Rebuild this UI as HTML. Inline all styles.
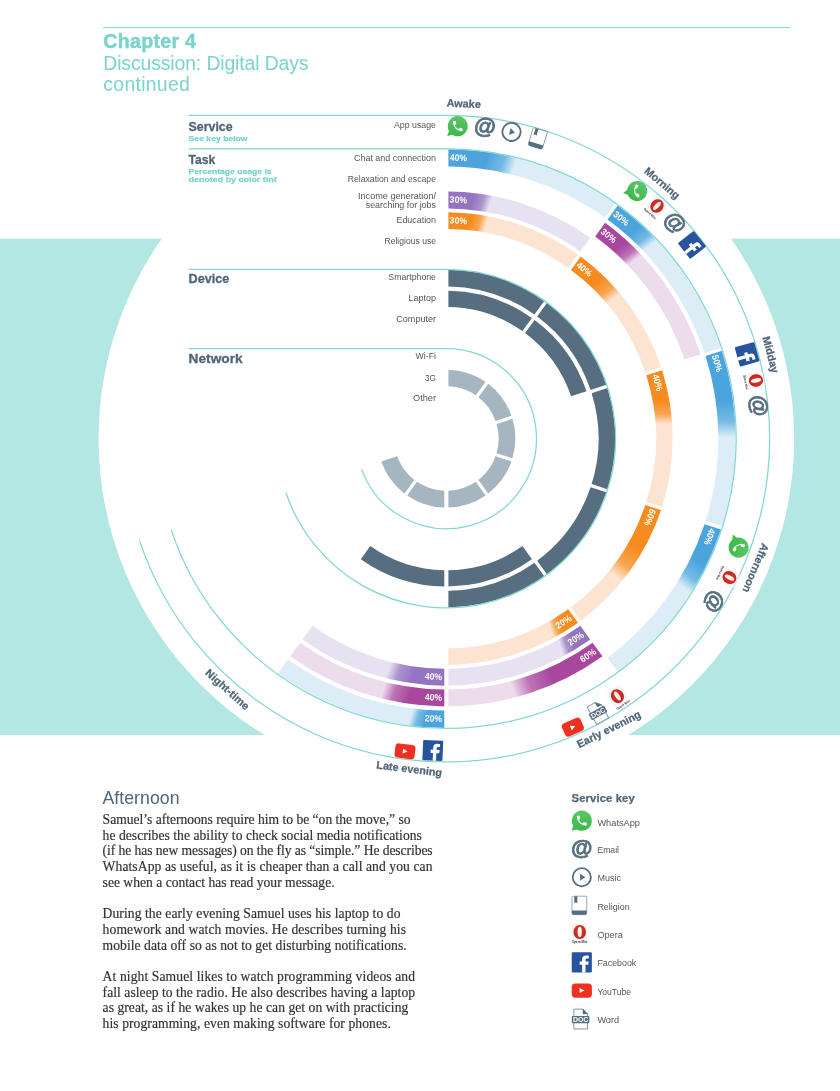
<!DOCTYPE html>
<html lang="en">
<head>
<meta charset="utf-8">
<title>Chapter 4 – Discussion: Digital Days continued</title>
<style>
html,body{margin:0;padding:0;background:#fff;}
body{width:840px;height:1091px;position:relative;overflow:hidden;font-family:"Liberation Sans",sans-serif;}
#chart{position:absolute;left:0;top:0;width:840px;height:1091px;display:block;}
.rule{position:absolute;left:102.6px;top:26.9px;width:687.4px;height:1.6px;background:#82d7d1;}
.hd{position:absolute;left:103.3px;margin:0;color:#7ad3cd;white-space:nowrap;line-height:1;transform-origin:0 0;}
h1.hd{top:32.0px;font-size:19.6px;font-weight:bold;letter-spacing:.28px;-webkit-text-stroke:.45px #7ad3cd;}
.sub{font-weight:normal;font-size:19.4px;letter-spacing:-.12px;}
.sub.a{top:54.0px;}
.sub.b{top:75.1px;letter-spacing:.3px;}
h2.sec{position:absolute;left:102.4px;top:789.7px;margin:0;font-size:17.7px;letter-spacing:.05px;font-weight:normal;color:#4f6579;line-height:1;white-space:nowrap;}
.copy{position:absolute;left:102.6px;top:812.0px;width:345px;font-family:"Liberation Serif",serif;font-size:13.6px;line-height:15.7px;color:#333333;-webkit-text-stroke:.18px #333333;}
.copy p{margin:0 0 15.7px 0;white-space:nowrap;}
.copy span{display:block;width:max-content;}
.keyh{position:absolute;left:571.6px;top:792.6px;margin:0;font-size:11.3px;letter-spacing:.1px;-webkit-text-stroke:.25px #4f6579;font-weight:bold;color:#4f6579;line-height:1;white-space:nowrap;}
</style>
</head>
<body>
<svg id="chart" width="840" height="1091" viewBox="0 0 840 1091" font-family="'Liberation Sans', sans-serif"><defs><linearGradient id="wa" x1="0" y1="0" x2="0" y2="1"><stop offset="0" stop-color="#5ac766"/><stop offset="1" stop-color="#3cb84a"/></linearGradient><radialGradient id="op" cx=".5" cy=".4" r=".62"><stop offset="0" stop-color="#e8362c"/><stop offset="1" stop-color="#c21f1b"/></radialGradient><linearGradient id="g1" gradientUnits="userSpaceOnUse" x1="446.35" y1="157.95" x2="611.31" y2="211.55"><stop offset="0.22" stop-color="#4ba4dd"/><stop offset="0.32" stop-color="#76bae5"/><stop offset="0.39" stop-color="#dcedf8"/></linearGradient><linearGradient id="g2" gradientUnits="userSpaceOnUse" x1="611.31" y1="211.55" x2="713.26" y2="351.87"><stop offset="0.17" stop-color="#4ba4dd"/><stop offset="0.24" stop-color="#76bae5"/><stop offset="0.29" stop-color="#dcedf8"/></linearGradient><linearGradient id="g3" gradientUnits="userSpaceOnUse" x1="713.26" y1="351.87" x2="713.26" y2="525.33"><stop offset="0.28" stop-color="#4ba4dd"/><stop offset="0.4" stop-color="#76bae5"/><stop offset="0.49" stop-color="#dcedf8"/></linearGradient><linearGradient id="g4" gradientUnits="userSpaceOnUse" x1="713.26" y1="525.33" x2="611.31" y2="665.65"><stop offset="0.22" stop-color="#4ba4dd"/><stop offset="0.32" stop-color="#76bae5"/><stop offset="0.39" stop-color="#dcedf8"/></linearGradient><linearGradient id="g5" gradientUnits="userSpaceOnUse" x1="446.35" y1="719.25" x2="281.39" y2="665.65"><stop offset="0.11" stop-color="#4ba4dd"/><stop offset="0.16" stop-color="#76bae5"/><stop offset="0.2" stop-color="#dcedf8"/></linearGradient><linearGradient id="g6" gradientUnits="userSpaceOnUse" x1="598.85" y1="228.7" x2="693.1" y2="358.43"><stop offset="0.17" stop-color="#a9469d"/><stop offset="0.24" stop-color="#bd73b5"/><stop offset="0.29" stop-color="#ecdcec"/></linearGradient><linearGradient id="g7" gradientUnits="userSpaceOnUse" x1="598.85" y1="648.5" x2="446.35" y2="698.05"><stop offset="0.33" stop-color="#a9469d"/><stop offset="0.48" stop-color="#bd73b5"/><stop offset="0.59" stop-color="#ecdcec"/></linearGradient><linearGradient id="g8" gradientUnits="userSpaceOnUse" x1="446.35" y1="698.05" x2="293.85" y2="648.5"><stop offset="0.22" stop-color="#a9469d"/><stop offset="0.32" stop-color="#bd73b5"/><stop offset="0.39" stop-color="#ecdcec"/></linearGradient><linearGradient id="g9" gradientUnits="userSpaceOnUse" x1="446.35" y1="199.95" x2="586.62" y2="245.53"><stop offset="0.17" stop-color="#9474c0"/><stop offset="0.24" stop-color="#ad95cf"/><stop offset="0.29" stop-color="#e7e2f2"/></linearGradient><linearGradient id="g10" gradientUnits="userSpaceOnUse" x1="586.62" y1="631.67" x2="446.35" y2="677.25"><stop offset="0.11" stop-color="#9474c0"/><stop offset="0.16" stop-color="#ad95cf"/><stop offset="0.2" stop-color="#e7e2f2"/></linearGradient><linearGradient id="g11" gradientUnits="userSpaceOnUse" x1="446.35" y1="677.25" x2="306.08" y2="631.67"><stop offset="0.22" stop-color="#9474c0"/><stop offset="0.32" stop-color="#ad95cf"/><stop offset="0.39" stop-color="#e7e2f2"/></linearGradient><linearGradient id="g12" gradientUnits="userSpaceOnUse" x1="446.35" y1="220.6" x2="574.49" y2="262.23"><stop offset="0.17" stop-color="#f68c1f"/><stop offset="0.24" stop-color="#f8a654"/><stop offset="0.29" stop-color="#fde4d1"/></linearGradient><linearGradient id="g13" gradientUnits="userSpaceOnUse" x1="574.49" y1="262.23" x2="653.68" y2="371.23"><stop offset="0.22" stop-color="#f68c1f"/><stop offset="0.32" stop-color="#f8a654"/><stop offset="0.39" stop-color="#fde4d1"/></linearGradient><linearGradient id="g14" gradientUnits="userSpaceOnUse" x1="653.68" y1="371.23" x2="653.68" y2="505.97"><stop offset="0.22" stop-color="#f68c1f"/><stop offset="0.32" stop-color="#f8a654"/><stop offset="0.39" stop-color="#fde4d1"/></linearGradient><linearGradient id="g15" gradientUnits="userSpaceOnUse" x1="653.68" y1="505.97" x2="574.49" y2="614.97"><stop offset="0.33" stop-color="#f68c1f"/><stop offset="0.48" stop-color="#f8a654"/><stop offset="0.59" stop-color="#fde4d1"/></linearGradient><linearGradient id="g16" gradientUnits="userSpaceOnUse" x1="574.49" y1="614.97" x2="446.35" y2="656.6"><stop offset="0.11" stop-color="#f68c1f"/><stop offset="0.16" stop-color="#f8a654"/><stop offset="0.2" stop-color="#fde4d1"/></linearGradient></defs><rect x="0" y="238.6" width="840" height="496.4" fill="#b3e7e3"/>
<circle cx="446.35" cy="438.6" r="347.8" fill="#fff"/>
<path d="M448.4 149.31A289.3 289.3 0 0 1 615.06 203.59L604.89 217.58A272 272 0 0 0 448.4 166.61Z" fill="url(#g1)"/>
<path d="M617.73 205.53A289.3 289.3 0 0 1 720.98 347.63L704.52 352.98A272 272 0 0 0 607.56 219.52Z" fill="url(#g2)"/>
<path d="M722 350.77A289.3 289.3 0 0 1 722 526.43L705.54 521.08A272 272 0 0 0 705.54 356.12Z" fill="url(#g3)"/>
<path d="M720.98 529.57A289.3 289.3 0 0 1 617.73 671.67L607.56 657.68A272 272 0 0 0 704.52 524.22Z" fill="url(#g4)"/>
<path d="M444.3 727.89A289.3 289.3 0 0 1 277.64 673.61L287.81 659.62A272 272 0 0 0 444.3 710.59Z" fill="url(#g5)"/>
<path d="M605.15 222.84A267.9 267.9 0 0 1 700.62 354.25L684.55 359.47A251 251 0 0 0 595.22 236.51Z" fill="url(#g6)"/>
<path d="M602.48 656.3A267.9 267.9 0 0 1 448.4 706.49L448.4 689.59A251 251 0 0 0 592.55 642.63Z" fill="url(#g7)"/>
<path d="M444.3 706.49A267.9 267.9 0 0 1 290.22 656.3L300.15 642.63A251 251 0 0 0 444.3 689.59Z" fill="url(#g8)"/>
<path d="M448.4 191.51A247.1 247.1 0 0 1 590.25 237.73L580.32 251.4A230.2 230.2 0 0 0 448.4 208.41Z" fill="url(#g9)"/>
<path d="M590.25 639.47A247.1 247.1 0 0 1 448.4 685.69L448.4 668.79A230.2 230.2 0 0 0 580.32 625.8Z" fill="url(#g10)"/>
<path d="M444.3 685.69A247.1 247.1 0 0 1 302.45 639.47L312.38 625.8A230.2 230.2 0 0 0 444.3 668.79Z" fill="url(#g11)"/>
<path d="M448.4 212.31A226.3 226.3 0 0 1 578.03 254.55L568.27 267.98A209.7 209.7 0 0 0 448.4 228.91Z" fill="url(#g12)"/>
<path d="M580.7 256.49A226.3 226.3 0 0 1 661.06 367.1L645.27 372.23A209.7 209.7 0 0 0 570.94 269.92Z" fill="url(#g13)"/>
<path d="M662.08 370.24A226.3 226.3 0 0 1 662.08 506.96L646.29 501.83A209.7 209.7 0 0 0 646.29 375.37Z" fill="url(#g14)"/>
<path d="M661.06 510.1A226.3 226.3 0 0 1 580.7 620.71L570.94 607.28A209.7 209.7 0 0 0 645.27 504.97Z" fill="url(#g15)"/>
<path d="M578.03 622.65A226.3 226.3 0 0 1 448.4 664.89L448.4 648.29A209.7 209.7 0 0 0 568.27 609.22Z" fill="url(#g16)"/>
<path d="M448.4 269.81A168.8 168.8 0 0 1 544.23 301.07L534.47 314.51A152.2 152.2 0 0 0 448.4 286.41Z" fill="#566e7f"/>
<path d="M546.9 303.01A168.8 168.8 0 0 1 606.37 384.87L590.58 390A152.2 152.2 0 0 0 537.14 316.44Z" fill="#566e7f"/>
<path d="M607.39 388.01A168.8 168.8 0 0 1 607.39 489.19L591.6 484.06A152.2 152.2 0 0 0 591.6 393.14Z" fill="#566e7f"/>
<path d="M606.37 492.33A168.8 168.8 0 0 1 546.9 574.19L537.14 560.76A152.2 152.2 0 0 0 590.58 487.2Z" fill="#566e7f"/>
<path d="M544.23 576.13A168.8 168.8 0 0 1 448.4 607.39L448.4 590.79A152.2 152.2 0 0 0 534.47 562.69Z" fill="#566e7f"/>
<path d="M448.4 290.71A147.9 147.9 0 0 1 531.94 317.98L522.42 331.09A131.7 131.7 0 0 0 448.4 306.92Z" fill="#566e7f"/>
<path d="M534.61 319.92A147.9 147.9 0 0 1 586.49 391.33L571.08 396.34A131.7 131.7 0 0 0 525.09 333.03Z" fill="#566e7f"/>
<path d="M531.94 559.22A147.9 147.9 0 0 1 448.4 586.49L448.4 570.28A131.7 131.7 0 0 0 522.42 546.11Z" fill="#566e7f"/>
<path d="M444.3 586.49A147.9 147.9 0 0 1 360.76 559.22L370.28 546.11A131.7 131.7 0 0 0 444.3 570.28Z" fill="#566e7f"/>
<path d="M448.4 369.63A69 69 0 0 1 485.56 381.82L475.74 395.34A52.3 52.3 0 0 0 448.4 386.34Z" fill="#a5b6c1"/>
<path d="M488.23 383.76A69 69 0 0 1 511.44 415.71L495.56 420.88A52.3 52.3 0 0 0 478.41 397.28Z" fill="#a5b6c1"/>
<path d="M512.46 418.85A69 69 0 0 1 512.46 458.35L496.58 453.18A52.3 52.3 0 0 0 496.58 424.02Z" fill="#a5b6c1"/>
<path d="M511.44 461.49A69 69 0 0 1 488.23 493.44L478.41 479.92A52.3 52.3 0 0 0 495.56 456.32Z" fill="#a5b6c1"/>
<path d="M485.56 495.38A69 69 0 0 1 448.4 507.57L448.4 490.86A52.3 52.3 0 0 0 475.74 481.86Z" fill="#a5b6c1"/>
<path d="M444.3 507.57A69 69 0 0 1 407.14 495.38L416.96 481.86A52.3 52.3 0 0 0 444.3 490.86Z" fill="#a5b6c1"/>
<path d="M404.47 493.44A69 69 0 0 1 381.26 461.49L397.14 456.32A52.3 52.3 0 0 0 414.29 479.92Z" fill="#a5b6c1"/>
<path d="M188.6 115.3H446.35A323.3 323.3 0 1 1 139.58 540.65" fill="none" stroke="#82d7d1" stroke-width="1.25"/>
<path d="M188.6 148.75H446.35A289.85 289.85 0 1 1 171.16 529.61" fill="none" stroke="#82d7d1" stroke-width="1.25"/>
<path d="M188.6 269.35H446.35A169.25 169.25 0 1 1 285.94 492.58" fill="none" stroke="#82d7d1" stroke-width="1.25"/>
<path d="M188.6 348.5H446.35A90.1 90.1 0 1 1 361.58 469.12" fill="none" stroke="#82d7d1" stroke-width="1.25"/>
<text transform="translate(458.35 158.21) rotate(2.45)" x="0" y="2.7" text-anchor="middle" font-size="9.3" font-weight="bold" fill="#fff" textLength="17.2" lengthAdjust="spacingAndGlyphs">40%</text>
<text transform="translate(620.87 218.81) rotate(38.45)" x="0" y="2.7" text-anchor="middle" font-size="9.3" font-weight="bold" fill="#fff" textLength="17.2" lengthAdjust="spacingAndGlyphs">30%</text>
<text transform="translate(716.73 363.36) rotate(74.45)" x="0" y="2.7" text-anchor="middle" font-size="9.3" font-weight="bold" fill="#fff" textLength="17.2" lengthAdjust="spacingAndGlyphs">50%</text>
<text transform="translate(709.31 536.66) rotate(110.45)" x="0" y="2.7" text-anchor="middle" font-size="9.3" font-weight="bold" fill="#fff" textLength="17.2" lengthAdjust="spacingAndGlyphs">40%</text>
<text transform="translate(433.45 718.95) rotate(2.63)" x="0" y="2.7" text-anchor="middle" font-size="9.3" font-weight="bold" fill="#fff" textLength="17.2" lengthAdjust="spacingAndGlyphs">20%</text>
<text transform="translate(608.39 235.98) rotate(38.65)" x="0" y="2.7" text-anchor="middle" font-size="9.3" font-weight="bold" fill="#fff" textLength="17.2" lengthAdjust="spacingAndGlyphs">30%</text>
<text transform="translate(588.23 655.82) rotate(-33.15)" x="0" y="2.7" text-anchor="middle" font-size="9.3" font-weight="bold" fill="#fff" textLength="17.2" lengthAdjust="spacingAndGlyphs">60%</text>
<text transform="translate(433.46 697.73) rotate(2.85)" x="0" y="2.7" text-anchor="middle" font-size="9.3" font-weight="bold" fill="#fff" textLength="17.2" lengthAdjust="spacingAndGlyphs">40%</text>
<text transform="translate(458.34 200.25) rotate(2.88)" x="0" y="2.7" text-anchor="middle" font-size="9.3" font-weight="bold" fill="#fff" textLength="17.2" lengthAdjust="spacingAndGlyphs">30%</text>
<text transform="translate(575.99 638.97) rotate(-32.9)" x="0" y="2.7" text-anchor="middle" font-size="9.3" font-weight="bold" fill="#fff" textLength="17.2" lengthAdjust="spacingAndGlyphs">20%</text>
<text transform="translate(433.46 676.9) rotate(3.1)" x="0" y="2.7" text-anchor="middle" font-size="9.3" font-weight="bold" fill="#fff" textLength="17.2" lengthAdjust="spacingAndGlyphs">40%</text>
<text transform="translate(458.34 220.93) rotate(3.15)" x="0" y="2.7" text-anchor="middle" font-size="9.3" font-weight="bold" fill="#fff" textLength="17.2" lengthAdjust="spacingAndGlyphs">30%</text>
<text transform="translate(584 269.55) rotate(39.15)" x="0" y="2.7" text-anchor="middle" font-size="9.3" font-weight="bold" fill="#fff" textLength="17.2" lengthAdjust="spacingAndGlyphs">40%</text>
<text transform="translate(657.07 382.74) rotate(75.15)" x="0" y="2.7" text-anchor="middle" font-size="9.3" font-weight="bold" fill="#fff" textLength="17.2" lengthAdjust="spacingAndGlyphs">40%</text>
<text transform="translate(649.66 517.27) rotate(111.15)" x="0" y="2.7" text-anchor="middle" font-size="9.3" font-weight="bold" fill="#fff" textLength="17.2" lengthAdjust="spacingAndGlyphs">60%</text>
<text transform="translate(563.83 622.24) rotate(-32.61)" x="0" y="2.7" text-anchor="middle" font-size="9.3" font-weight="bold" fill="#fff" textLength="17.2" lengthAdjust="spacingAndGlyphs">20%</text>
<text transform="translate(463.72 103.75) rotate(2.5)" x="0" y="3.6" text-anchor="middle" font-size="10.8" font-weight="bold" fill="#4f6579" stroke="#4f6579" stroke-width=".25" textLength="34.3" lengthAdjust="spacingAndGlyphs">Awake</text>
<text transform="translate(662.13 183.26) rotate(40)" x="0" y="3.6" text-anchor="middle" font-size="10.8" font-weight="bold" fill="#4f6579" stroke="#4f6579" stroke-width=".25" textLength="42.6" lengthAdjust="spacingAndGlyphs">Morning</text>
<text transform="translate(770.55 354.63) rotate(75.5)" x="0" y="3.6" text-anchor="middle" font-size="10.8" font-weight="bold" fill="#4f6579" stroke="#4f6579" stroke-width=".25" textLength="37.5" lengthAdjust="spacingAndGlyphs">Midday</text>
<text transform="translate(755.68 567.99) rotate(112.6)" x="0" y="3.6" text-anchor="middle" font-size="10.8" font-weight="bold" fill="#4f6579" stroke="#4f6579" stroke-width=".25" textLength="52.0" lengthAdjust="spacingAndGlyphs">Afternoon</text>
<text transform="translate(608.81 729.28) rotate(-26.6)" x="0" y="3.6" text-anchor="middle" font-size="10.8" font-weight="bold" fill="#4f6579" stroke="#4f6579" stroke-width=".25" textLength="70.0" lengthAdjust="spacingAndGlyphs">Early evening</text>
<text transform="translate(409.3 768.93) rotate(7)" x="0" y="3.6" text-anchor="middle" font-size="10.8" font-weight="bold" fill="#4f6579" stroke="#4f6579" stroke-width=".25" textLength="66.0" lengthAdjust="spacingAndGlyphs">Late evening</text>
<text transform="translate(227.44 689.54) rotate(42)" x="0" y="3.6" text-anchor="middle" font-size="10.8" font-weight="bold" fill="#4f6579" stroke="#4f6579" stroke-width=".25" textLength="55.0" lengthAdjust="spacingAndGlyphs">Night-time</text>
<g transform="translate(457.6 126.2) rotate(2.1)"><g><path d="M0.1-10.1a10.1 10.1 0 1 1-5.2 18.8L-10 10.1l1.5-5A10.1 10.1 0 0 1 0.1-10.1Z" fill="url(#wa)"/><path transform="translate(-6.5 -6.7) scale(.55)" fill="#fff" d="M6.62 10.79c1.44 2.83 3.76 5.14 6.59 6.59l2.2-2.2c.27-.27.67-.36 1.02-.24 1.12.37 2.33.57 3.57.57.55 0 1 .45 1 1V20c0 .55-.45 1-1 1-9.39 0-17-7.61-17-17 0-.55.45-1 1-1h3.5c.55 0 1 .45 1 1 0 1.25.2 2.45.57 3.57.11.35.03.74-.25 1.02l-2.2 2.2z"/></g></g>
<g transform="translate(484.9 127.5) rotate(7.1)"><text x="0" y="5.8" text-anchor="middle" font-size="22" font-weight="bold" fill="#566e7f" stroke="#566e7f" stroke-width=".75" stroke-linejoin="round">@</text></g>
<g transform="translate(511.5 131.9) rotate(12)"><g><circle r="9.1" fill="#fff" stroke="#566e7f" stroke-width="1.8"/><path d="M-1.7-3.5L3.5 0L-1.7 3.5Z" fill="#566e7f"/></g></g>
<g transform="translate(538 138.6) rotate(17)"><g><path d="M-6.2-9.3H7.1V7.4A1.8 1.8 0 0 1 5.3 9.2H-5.9A1.8 1.8 0 0 1-7.7 7.4V-7.8A1.5 1.5 0 0 1-6.2-9.3Z" fill="#fff" stroke="#8395a3" stroke-width=".8"/><path d="M-7.7 5H7.1V7.4A1.8 1.8 0 0 1 5.3 9.2H-5.9A1.8 1.8 0 0 1-7.7 7.4Z" fill="#566e7f"/><path d="M-5.4-9.3h3.1v7.4l-1.55-1.3l-1.55 1.3Z" fill="#566e7f"/></g></g>
<g transform="translate(637.1 191) rotate(37.6)"><g><path d="M0.1-10.1a10.1 10.1 0 1 1-5.2 18.8L-10 10.1l1.5-5A10.1 10.1 0 0 1 0.1-10.1Z" fill="url(#wa)"/><path transform="translate(-6.5 -6.7) scale(.55)" fill="#fff" d="M6.62 10.79c1.44 2.83 3.76 5.14 6.59 6.59l2.2-2.2c.27-.27.67-.36 1.02-.24 1.12.37 2.33.57 3.57.57.55 0 1 .45 1 1V20c0 .55-.45 1-1 1-9.39 0-17-7.61-17-17 0-.55.45-1 1-1h3.5c.55 0 1 .45 1 1 0 1.25.2 2.45.57 3.57.11.35.03.74-.25 1.02l-2.2 2.2z"/></g></g>
<g transform="translate(655.8 207.1) rotate(42.2)"><g><rect x="-8.1" y="-9.7" width="16.2" height="16.2" rx="2" fill="#f6f5f5"/><ellipse cx="0.1" cy="-1.7" rx="6.3" ry="7.1" fill="url(#op)"/><ellipse cx="0.1" cy="-1.7" rx="2.1" ry="5.2" fill="#faf4f3"/><text x="0" y="9.8" text-anchor="middle" font-size="3.2" font-weight="bold" fill="#333" textLength="15.4" lengthAdjust="spacingAndGlyphs">Opera Mini</text></g></g>
<g transform="translate(674.3 223.3) rotate(46.7)"><text x="0" y="5.8" text-anchor="middle" font-size="22" font-weight="bold" fill="#566e7f" stroke="#566e7f" stroke-width=".75" stroke-linejoin="round">@</text></g>
<g transform="translate(692 244.9) rotate(51.8)"><g><rect x="-10.05" y="-10.15" width="20.1" height="20.3" rx="1.2" fill="#27539f"/><path d="M0.3 10.15V2.5H-2.1V-0.8H0.3V-3.2C0.3-5.7 1.9-6.9 4.2-6.9C5.3-6.9 6.4-6.8 7-6.7V-3.8H5.3C4-3.8 3.7-3.2 3.7-2.3V-0.8H6.9L6.5 2.5H3.7V10.15Z" fill="#fff"/></g></g>
<g transform="translate(747.1 354.3) rotate(74.4)"><g><rect x="-10.05" y="-10.15" width="20.1" height="20.3" rx="1.2" fill="#27539f"/><path d="M0.3 10.15V2.5H-2.1V-0.8H0.3V-3.2C0.3-5.7 1.9-6.9 4.2-6.9C5.3-6.9 6.4-6.8 7-6.7V-3.8H5.3C4-3.8 3.7-3.2 3.7-2.3V-0.8H6.9L6.5 2.5H3.7V10.15Z" fill="#fff"/></g></g>
<g transform="translate(754.3 380.7) rotate(79.4)"><g><rect x="-8.1" y="-9.7" width="16.2" height="16.2" rx="2" fill="#f6f5f5"/><ellipse cx="0.1" cy="-1.7" rx="6.3" ry="7.1" fill="url(#op)"/><ellipse cx="0.1" cy="-1.7" rx="2.1" ry="5.2" fill="#faf4f3"/><text x="0" y="9.8" text-anchor="middle" font-size="3.2" font-weight="bold" fill="#333" textLength="15.4" lengthAdjust="spacingAndGlyphs">Opera Mini</text></g></g>
<g transform="translate(757.9 405.7) rotate(84)"><text x="0" y="5.8" text-anchor="middle" font-size="22" font-weight="bold" fill="#566e7f" stroke="#566e7f" stroke-width=".75" stroke-linejoin="round">@</text></g>
<g transform="translate(738.7 547.5) rotate(110.5)"><g><path d="M0.1-10.1a10.1 10.1 0 1 1-5.2 18.8L-10 10.1l1.5-5A10.1 10.1 0 0 1 0.1-10.1Z" fill="url(#wa)"/><path transform="translate(-6.5 -6.7) scale(.55)" fill="#fff" d="M6.62 10.79c1.44 2.83 3.76 5.14 6.59 6.59l2.2-2.2c.27-.27.67-.36 1.02-.24 1.12.37 2.33.57 3.57.57.55 0 1 .45 1 1V20c0 .55-.45 1-1 1-9.39 0-17-7.61-17-17 0-.55.45-1 1-1h3.5c.55 0 1 .45 1 1 0 1.25.2 2.45.57 3.57.11.35.03.74-.25 1.02l-2.2 2.2z"/></g></g>
<g transform="translate(728 576.7) rotate(116.1)"><g><rect x="-8.1" y="-9.7" width="16.2" height="16.2" rx="2" fill="#f6f5f5"/><ellipse cx="0.1" cy="-1.7" rx="6.3" ry="7.1" fill="url(#op)"/><ellipse cx="0.1" cy="-1.7" rx="2.1" ry="5.2" fill="#faf4f3"/><text x="0" y="9.8" text-anchor="middle" font-size="3.2" font-weight="bold" fill="#333" textLength="15.4" lengthAdjust="spacingAndGlyphs">Opera Mini</text></g></g>
<g transform="translate(713.3 601.2) rotate(121.4)"><text x="0" y="5.8" text-anchor="middle" font-size="22" font-weight="bold" fill="#566e7f" stroke="#566e7f" stroke-width=".75" stroke-linejoin="round">@</text></g>
<g transform="translate(618.3 697.5) rotate(-33.6)"><g><rect x="-8.1" y="-9.7" width="16.2" height="16.2" rx="2" fill="#f6f5f5"/><ellipse cx="0.1" cy="-1.7" rx="6.3" ry="7.1" fill="url(#op)"/><ellipse cx="0.1" cy="-1.7" rx="2.1" ry="5.2" fill="#faf4f3"/><text x="0" y="9.8" text-anchor="middle" font-size="3.2" font-weight="bold" fill="#333" textLength="15.4" lengthAdjust="spacingAndGlyphs">Opera Mini</text></g></g>
<g transform="translate(597.8 712.5) rotate(-28.9)"><g><path d="M-6.7-9.9H2.4L6.9-5.1V9.9H-6.7Z" fill="#fff" stroke="#8395a3" stroke-width="1" stroke-linejoin="round"/><path d="M2.4-9.9L6.9-5.1H2.4Z" fill="#566e7f" stroke="#566e7f" stroke-width=".5" stroke-linejoin="round"/><rect x="-8.8" y="-3.1" width="17.6" height="7.2" rx="1" fill="#566e7f"/><text x="0" y="3" text-anchor="middle" font-size="6.9" font-weight="bold" fill="#fff" textLength="15.4" lengthAdjust="spacingAndGlyphs">DOC</text></g></g>
<g transform="translate(572.8 727) rotate(-23.7)"><g><rect x="-10.1" y="-7" width="20.2" height="14.3" rx="3.6" fill="#ef2f20"/><path d="M-2.2-2.4L2.6 0.15L-2.2 2.7Z" fill="#fff"/></g></g>
<g transform="translate(432.8 750.5) rotate(2.5)"><g><rect x="-10.05" y="-10.15" width="20.1" height="20.3" rx="1.2" fill="#27539f"/><path d="M0.3 10.15V2.5H-2.1V-0.8H0.3V-3.2C0.3-5.7 1.9-6.9 4.2-6.9C5.3-6.9 6.4-6.8 7-6.7V-3.8H5.3C4-3.8 3.7-3.2 3.7-2.3V-0.8H6.9L6.5 2.5H3.7V10.15Z" fill="#fff"/></g></g>
<g transform="translate(405 751.2) rotate(7.5)"><g><rect x="-10.1" y="-7" width="20.2" height="14.3" rx="3.6" fill="#ef2f20"/><path d="M-2.2-2.4L2.6 0.15L-2.2 2.7Z" fill="#fff"/></g></g>
<text x="188.6" y="131.1" font-size="13" font-weight="bold" fill="#4f6579" stroke="#4f6579" stroke-width="0.3" textLength="44" lengthAdjust="spacingAndGlyphs">Service</text>
<text x="188.6" y="141.1" font-size="8" font-weight="bold" fill="#7ad3cd" stroke="#7ad3cd" stroke-width="0.25" textLength="59" lengthAdjust="spacingAndGlyphs">See key below</text>
<text x="188.6" y="164.4" font-size="13" font-weight="bold" fill="#4f6579" stroke="#4f6579" stroke-width="0.3" textLength="26.7" lengthAdjust="spacingAndGlyphs">Task</text>
<text x="188.6" y="174.4" font-size="8" font-weight="bold" fill="#7ad3cd" stroke="#7ad3cd" stroke-width="0.25" textLength="83" lengthAdjust="spacingAndGlyphs">Percentage usage is</text>
<text x="188.6" y="182.4" font-size="8" font-weight="bold" fill="#7ad3cd" stroke="#7ad3cd" stroke-width="0.25" textLength="88" lengthAdjust="spacingAndGlyphs">denoted by color tint</text>
<text x="188.6" y="283.4" font-size="13" font-weight="bold" fill="#4f6579" stroke="#4f6579" stroke-width="0.3" textLength="40.7" lengthAdjust="spacingAndGlyphs">Device</text>
<text x="188.6" y="362.8" font-size="13" font-weight="bold" fill="#4f6579" stroke="#4f6579" stroke-width="0.3" textLength="54" lengthAdjust="spacingAndGlyphs">Network</text>
<text x="436" y="127.9" font-size="9.2" text-anchor="end" fill="#555555" textLength="42" lengthAdjust="spacingAndGlyphs">App usage</text>
<text x="436" y="160.7" font-size="9.2" text-anchor="end" fill="#555555" textLength="82" lengthAdjust="spacingAndGlyphs">Chat and connection</text>
<text x="436" y="181.8" font-size="9.2" text-anchor="end" fill="#555555" textLength="88.3" lengthAdjust="spacingAndGlyphs">Relaxation and escape</text>
<text x="436" y="198.7" font-size="9.2" text-anchor="end" fill="#555555" textLength="78" lengthAdjust="spacingAndGlyphs">Income generation/</text>
<text x="436" y="207.8" font-size="9.2" text-anchor="end" fill="#555555" textLength="70.3" lengthAdjust="spacingAndGlyphs">searching for jobs</text>
<text x="436" y="223.3" font-size="9.2" text-anchor="end" fill="#555555" textLength="39.5" lengthAdjust="spacingAndGlyphs">Education</text>
<text x="436" y="243.7" font-size="9.2" text-anchor="end" fill="#555555" textLength="51.5" lengthAdjust="spacingAndGlyphs">Religious use</text>
<text x="436" y="280.2" font-size="9.2" text-anchor="end" fill="#555555" textLength="47.7" lengthAdjust="spacingAndGlyphs">Smartphone</text>
<text x="436" y="301.2" font-size="9.2" text-anchor="end" fill="#555555" textLength="27.5" lengthAdjust="spacingAndGlyphs">Laptop</text>
<text x="436" y="321.9" font-size="9.2" text-anchor="end" fill="#555555" textLength="39.7" lengthAdjust="spacingAndGlyphs">Computer</text>
<text x="436" y="358.5" font-size="9.2" text-anchor="end" fill="#555555" textLength="20.5" lengthAdjust="spacingAndGlyphs">Wi-Fi</text>
<text x="436" y="381.2" font-size="9.2" text-anchor="end" fill="#555555" textLength="11" lengthAdjust="spacingAndGlyphs">3G</text>
<text x="436" y="401.2" font-size="9.2" text-anchor="end" fill="#555555" textLength="23" lengthAdjust="spacingAndGlyphs">Other</text><g transform="translate(581.7 820.7)"><g><path d="M0.1-10.1a10.1 10.1 0 1 1-5.2 18.8L-10 10.1l1.5-5A10.1 10.1 0 0 1 0.1-10.1Z" fill="url(#wa)"/><path transform="translate(-6.5 -6.7) scale(.55)" fill="#fff" d="M6.62 10.79c1.44 2.83 3.76 5.14 6.59 6.59l2.2-2.2c.27-.27.67-.36 1.02-.24 1.12.37 2.33.57 3.57.57.55 0 1 .45 1 1V20c0 .55-.45 1-1 1-9.39 0-17-7.61-17-17 0-.55.45-1 1-1h3.5c.55 0 1 .45 1 1 0 1.25.2 2.45.57 3.57.11.35.03.74-.25 1.02l-2.2 2.2z"/></g></g>
<text x="597.4" y="825.5" font-size="9.3" fill="#555555" textLength="42.6" lengthAdjust="spacingAndGlyphs">WhatsApp</text>
<g transform="translate(581.8 849.0)"><text x="0" y="5.8" text-anchor="middle" font-size="22" font-weight="bold" fill="#566e7f" stroke="#566e7f" stroke-width=".75" stroke-linejoin="round">@</text></g>
<text x="597.4" y="853" font-size="9.3" fill="#555555" textLength="21.6" lengthAdjust="spacingAndGlyphs">Email</text>
<g transform="translate(581.8 877.3)"><g><circle r="9.1" fill="#fff" stroke="#566e7f" stroke-width="1.8"/><path d="M-1.7-3.5L3.5 0L-1.7 3.5Z" fill="#566e7f"/></g></g>
<text x="597.4" y="881.2" font-size="9.3" fill="#555555" textLength="23.6" lengthAdjust="spacingAndGlyphs">Music</text>
<g transform="translate(579.65 905.5)"><g><path d="M-6.2-9.3H7.1V7.4A1.8 1.8 0 0 1 5.3 9.2H-5.9A1.8 1.8 0 0 1-7.7 7.4V-7.8A1.5 1.5 0 0 1-6.2-9.3Z" fill="#fff" stroke="#8395a3" stroke-width=".8"/><path d="M-7.7 5H7.1V7.4A1.8 1.8 0 0 1 5.3 9.2H-5.9A1.8 1.8 0 0 1-7.7 7.4Z" fill="#566e7f"/><path d="M-5.4-9.3h3.1v7.4l-1.55-1.3l-1.55 1.3Z" fill="#566e7f"/></g></g>
<text x="597.4" y="910" font-size="9.3" fill="#555555" textLength="32.3" lengthAdjust="spacingAndGlyphs">Religion</text>
<g transform="translate(579.65 933.7)"><g><rect x="-8.1" y="-9.7" width="16.2" height="16.2" rx="2" fill="#f6f5f5"/><ellipse cx="0.1" cy="-1.7" rx="6.3" ry="7.1" fill="url(#op)"/><ellipse cx="0.1" cy="-1.7" rx="2.1" ry="5.2" fill="#faf4f3"/><text x="0" y="9.8" text-anchor="middle" font-size="3.2" font-weight="bold" fill="#333" textLength="15.4" lengthAdjust="spacingAndGlyphs">Opera Mini</text></g></g>
<text x="597.4" y="938.2" font-size="9.3" fill="#555555" textLength="25.4" lengthAdjust="spacingAndGlyphs">Opera</text>
<g transform="translate(581.8 962.3)"><g><rect x="-10.05" y="-10.15" width="20.1" height="20.3" rx="1.2" fill="#27539f"/><path d="M0.3 10.15V2.5H-2.1V-0.8H0.3V-3.2C0.3-5.7 1.9-6.9 4.2-6.9C5.3-6.9 6.4-6.8 7-6.7V-3.8H5.3C4-3.8 3.7-3.2 3.7-2.3V-0.8H6.9L6.5 2.5H3.7V10.15Z" fill="#fff"/></g></g>
<text x="597.4" y="966" font-size="9.3" fill="#555555" textLength="38.9" lengthAdjust="spacingAndGlyphs">Facebook</text>
<g transform="translate(581.8 990.4)"><g><rect x="-10.1" y="-7" width="20.2" height="14.3" rx="3.6" fill="#ef2f20"/><path d="M-2.2-2.4L2.6 0.15L-2.2 2.7Z" fill="#fff"/></g></g>
<text x="597.4" y="994.5" font-size="9.3" fill="#555555" textLength="33.7" lengthAdjust="spacingAndGlyphs">YouTube</text>
<g transform="translate(580.6 1019.05)"><g><path d="M-6.7-9.9H2.4L6.9-5.1V9.9H-6.7Z" fill="#fff" stroke="#8395a3" stroke-width="1" stroke-linejoin="round"/><path d="M2.4-9.9L6.9-5.1H2.4Z" fill="#566e7f" stroke="#566e7f" stroke-width=".5" stroke-linejoin="round"/><rect x="-8.8" y="-3.1" width="17.6" height="7.2" rx="1" fill="#566e7f"/><text x="0" y="3" text-anchor="middle" font-size="6.9" font-weight="bold" fill="#fff" textLength="15.4" lengthAdjust="spacingAndGlyphs">DOC</text></g></g>
<text x="597.4" y="1023.2" font-size="9.3" fill="#555555" textLength="21.7" lengthAdjust="spacingAndGlyphs">Word</text></svg>
<div class="rule"></div>
<h1 class="hd">Chapter 4</h1>
<p class="hd sub a">Discussion: Digital Days</p>
<p class="hd sub b">continued</p>
<h2 class="sec">Afternoon</h2>
<div class="copy">
<p>
<span style="letter-spacing:-0.017px">Samuel’s afternoons require him to be “on the move,” so</span>
<span style="letter-spacing:0.037px">he describes the ability to check social media notifications</span>
<span style="letter-spacing:-0.073px">(if he has new messages) on the fly as “simple.” He describes</span>
<span style="letter-spacing:0.083px">WhatsApp as useful, as it is cheaper than a call and you can</span>
<span style="letter-spacing:0.006px">see when a contact has read your message.</span>
</p>
<p>
<span style="letter-spacing:0.072px">During the early evening Samuel uses his laptop to do</span>
<span style="letter-spacing:0.103px">homework and watch movies. He describes turning his</span>
<span style="letter-spacing:0.054px">mobile data off so as not to get disturbing notifications.</span>
</p>
<p>
<span style="letter-spacing:0.098px">At night Samuel likes to watch programming videos and</span>
<span style="letter-spacing:0.044px">fall asleep to the radio. He also describes having a laptop</span>
<span style="letter-spacing:0.047px">as great, as if he wakes up he can get on with practicing</span>
<span style="letter-spacing:0.074px">his programming, even making software for phones.</span>
</p>
</div>
<h3 class="keyh">Service key</h3>
</body>
</html>
